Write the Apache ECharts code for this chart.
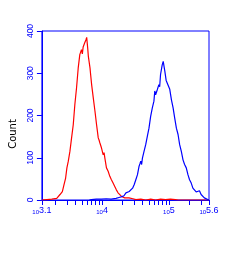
<!DOCTYPE html>
<html>
<head>
<meta charset="utf-8">
<script src="https://cdn.jsdelivr.net/npm/echarts@6/dist/echarts.min.js"></script>
<style>
html,body{margin:0;padding:0;background:#fff;}
#c{width:250px;height:270px;}
</style>
</head>
<body>
<div id="c"></div>
<script>
// x values are log10 of fluorescence intensity (decades)
var redLog = [3.100,3.174,3.248,3.322,3.371,3.406,3.430,3.455,3.474,3.495,3.519,3.544,3.569,3.593,3.618,3.643,3.667,3.692,3.705,3.717,3.741,3.761,3.770,3.785,3.795,3.820,3.829,3.844,3.869,3.894,3.918,3.943,3.955,3.968,3.992,4.017,4.030,4.042,4.066,4.091,4.116,4.140,4.165,4.190,4.214,4.239,4.264,4.288,4.313,4.338,4.362,4.402,4.461,4.506,4.580,4.654,4.728,4.801,4.875,4.949,5.023,5.097,5.141,5.600];
var redCount = [0,1,2,4,13,20,36,52,76,92,115,147,178,226,265,312,344,356,346,362,372,380,385,360,340,312,297,273,241,210,178,147,142,135,123,107,112,99,76,68,56,48,40,32,24,17,13,9,6,5,3,5,3,1,2,0,2,0,2,1,2,1,0,0];
var blueLog = [3.810,3.840,3.914,3.988,4.062,4.136,4.209,4.254,4.298,4.328,4.357,4.406,4.457,4.480,4.505,4.530,4.554,4.567,4.579,4.592,4.604,4.628,4.653,4.678,4.702,4.727,4.752,4.776,4.789,4.801,4.826,4.850,4.862,4.875,4.900,4.915,4.939,4.959,4.983,5.013,5.038,5.063,5.087,5.112,5.137,5.161,5.186,5.211,5.235,5.260,5.285,5.309,5.334,5.359,5.383,5.408,5.433,5.457,5.482,5.507,5.530,5.556,5.581,5.600];
var blueCount = [0,1,2,2,3,2,4,6,8,10,17,20,28,36,48,60,80,86,92,84,99,115,131,151,170,198,218,234,258,249,261,273,268,297,320,328,305,283,286,262,237,218,194,170,155,131,115,95,84,76,60,48,40,28,24,19,17,22,13,9,5,5,1,0];
var xTickIntensities = [1259,2000,3000,4000,5000,6000,7000,8000,9000,10000,20000,30000,40000,50000,60000,70000,80000,90000,100000,200000,300000,398107];
var xLabelExps = [3.1, 4, 5, 5.6];
var yTicks = [0, 100, 200, 300, 400];
var yTitle = 'Count';

var xTickVals = xTickIntensities.map(function(v){ return Math.log10(v); });
function pairs(xs, ys){ return xs.map(function(x,i){ return [x, ys[i]]; }); }

var chart = echarts.init(document.getElementById('c'), null, {renderer:'canvas'});
var blue = '#0000ff';
chart.setOption({
  animation: false,
  grid: {left: 40, top: 31, width: 169, height: 169, show: true, borderColor: blue, borderWidth: 1, backgroundColor: 'transparent'},
  xAxis: {
    type: 'value', min: 3.1, max: 5.6,
    axisLine: {lineStyle: {color: blue, width: 1}},
    splitLine: {show: false},
    axisTick: {customValues: xTickVals, length: 5, lineStyle: {color: blue, width: 1}},
    axisLabel: {
      customValues: xLabelExps, margin: 6, color: blue,
      formatter: function(v){ return '{a|10}{b|' + String(v) + '}'; },
      rich: {
        a: {fontSize: 6, fontFamily: 'Liberation Sans', color: blue, verticalAlign: 'bottom'},
        b: {fontSize: 9, fontFamily: 'Liberation Sans', color: blue}
      }
    }
  },
  yAxis: {
    type: 'value', min: yTicks[0], max: yTicks[yTicks.length-1], interval: 100,
    name: yTitle, nameLocation: 'middle', nameGap: 21,
    nameTextStyle: {color: '#000', fontSize: 10, fontFamily: 'DejaVu Sans', padding: [0, 37, 0, 0]},
    axisLine: {show: true, lineStyle: {color: blue, width: 1}},
    splitLine: {show: false},
    axisTick: {show: true, length: 5, lineStyle: {color: blue, width: 1}},
    axisLabel: {rotate: 90, margin: 7, color: blue, fontSize: 8.5, fontFamily: 'Liberation Sans'}
  },
  series: [
    {type: 'line', data: pairs(redLog, redCount), showSymbol: false, symbol: 'none', lineStyle: {color: '#ff0000', width: 1.2}, itemStyle: {color: '#ff0000'}},
    {type: 'line', data: pairs(blueLog, blueCount), showSymbol: false, symbol: 'none', lineStyle: {color: blue, width: 1.2}, itemStyle: {color: blue}}
  ]
});
</script>
</body>
</html>
